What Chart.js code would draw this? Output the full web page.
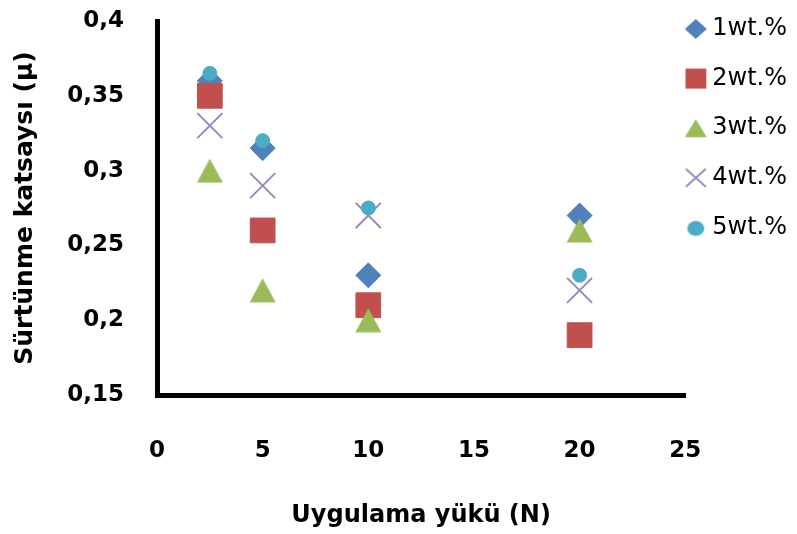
<!DOCTYPE html>
<html>
<head>
<meta charset="utf-8">
<script src="https://cdn.jsdelivr.net/npm/chart.js@4.4.1/dist/chart.umd.min.js"></script>
<style>
  html, body { margin: 0; padding: 0; background: #ffffff; }
  #wrap { width: 797px; height: 534px; }
</style>
</head>
<body>
<div id="wrap"><canvas id="chart" width="797" height="534"></canvas></div>
<script>
// Applied load (N) and friction coefficient for each reinforcement ratio
const loads = [2.5, 5, 10, 20];
const wt1 = [0.36, 0.315, 0.23, 0.27];
const wt2 = [0.35, 0.26, 0.21, 0.19];
const wt3 = [0.30, 0.22, 0.20, 0.26];
const wt4 = [0.33, 0.29, 0.27, 0.22];
const wt5 = [0.365, 0.32, 0.275, 0.23];
const seriesNames = ['1wt.%', '2wt.%', '3wt.%', '4wt.%', '5wt.%'];

const xTicks = [0, 5, 10, 15, 20, 25];
const xTickLabels = ['0', '5', '10', '15', '20', '25'];
const yTicks = [0.15, 0.2, 0.25, 0.3, 0.35, 0.4];
const yTickLabels = ['0,15', '0,2', '0,25', '0,3', '0,35', '0,4'];

const BLUE = '#4F81BD', RED = '#C0504D', GREEN = '#9BBB59', PURPLE = '#9682BF', CYAN = '#4BACC6';

function makeIcon(w, h, draw) {
  const c = document.createElement('canvas');
  c.width = w; c.height = h;
  draw(c.getContext('2d'), w, h);
  return c;
}

// Triangle marker centred on its bounding box
const triangleMarker = makeIcon(27, 25, (g) => {
  g.fillStyle = GREEN;
  g.beginPath();
  g.moveTo(13.5, 0.5); g.lineTo(26.5, 24.5); g.lineTo(0.5, 24.5); g.closePath();
  g.fill();
});

// Legend symbols
const LX = 17.5, LY = 12;
const legendIcons = [
  makeIcon(29, 24, (g) => {
    g.fillStyle = BLUE; g.beginPath();
    g.moveTo(LX - 11, LY); g.lineTo(LX, LY - 10); g.lineTo(LX + 11, LY); g.lineTo(LX, LY + 10);
    g.closePath(); g.fill();
  }),
  makeIcon(29, 24, (g) => {
    g.fillStyle = RED; g.fillRect(LX - 10.5, LY - 10, 21, 20);
  }),
  makeIcon(29, 24, (g) => {
    g.fillStyle = GREEN; g.beginPath();
    g.moveTo(LX, LY - 9); g.lineTo(LX + 11, LY + 9); g.lineTo(LX - 11, LY + 9);
    g.closePath(); g.fill();
  }),
  makeIcon(29, 24, (g) => {
    g.strokeStyle = PURPLE; g.lineWidth = 1.8; g.beginPath();
    g.moveTo(LX - 10, LY - 9); g.lineTo(LX + 10, LY + 9);
    g.moveTo(LX + 10, LY - 9); g.lineTo(LX - 10, LY + 9);
    g.stroke();
  }),
  makeIcon(29, 24, (g) => {
    g.fillStyle = CYAN; g.beginPath();
    g.ellipse(LX, LY + 1, 8.5, 7.5, 0, 0, Math.PI * 2); g.fill();
  })
];

function points(ys) {
  return loads.map((x, i) => ({ x: x, y: ys[i] }));
}

const seriesValues = [wt1, wt2, wt3, wt4, wt5];
const styles = [
  { pointStyle: 'rectRot', pointRadius: 12.5, pointBackgroundColor: BLUE, pointBorderColor: BLUE, pointBorderWidth: 1 },
  { pointStyle: 'rect', pointRadius: 17.5, pointBackgroundColor: RED, pointBorderColor: RED, pointBorderWidth: 1 },
  { pointStyle: triangleMarker, pointRadius: 13, pointBackgroundColor: GREEN, pointBorderColor: GREEN, pointBorderWidth: 0 },
  { pointStyle: 'crossRot', pointRadius: 17.7, pointBackgroundColor: PURPLE, pointBorderColor: PURPLE, pointBorderWidth: 1.8 },
  { pointStyle: 'circle', pointRadius: 7, pointBackgroundColor: CYAN, pointBorderColor: CYAN, pointBorderWidth: 1 }
];

const datasets = seriesNames.map((name, i) => Object.assign({
  label: name,
  data: points(seriesValues[i]),
  showLine: false,
  order: seriesNames.length - i,
  pointHoverRadius: styles[i].pointRadius
}, styles[i]));

const tickFont = { family: 'DejaVu Sans', weight: 'bold', size: 23 };
const xTitleFont = { family: 'DejaVu Sans', weight: 'bold', size: 24 };
const yTitleFont = { family: 'DejaVu Sans', weight: 'bold', size: 25 };

new Chart(document.getElementById('chart'), {
  type: 'scatter',
  data: { datasets: datasets },
  options: {
    responsive: false,
    animation: false,
    events: [],
    layout: { padding: { top: 17, right: 0, bottom: 0, left: 0 } },
    plugins: {
      tooltip: { enabled: false },
      legend: {
        display: true,
        position: 'right',
        align: 'start',
        labels: {
          usePointStyle: true,
          boxWidth: 15,
          padding: 0,
          color: '#000',
          font: { family: 'DejaVu Sans', size: 24, lineHeight: '49.6px' },
          generateLabels: (chart) => {
            const base = Chart.defaults.plugins.legend.labels.generateLabels(chart);
            return base
              .sort((a, b) => a.datasetIndex - b.datasetIndex)
              .map((item) => Object.assign(item, {
                text: [seriesNames[item.datasetIndex]],
                pointStyle: legendIcons[item.datasetIndex],
                lineWidth: 0
              }));
          }
        }
      }
    },
    scales: {
      x: {
        type: 'linear',
        min: 0,
        max: 25,
        afterBuildTicks: (s) => { s.ticks = xTicks.map((v) => ({ value: v })); },
        afterFit: (s) => { s.height = 139; },
        ticks: {
          autoSkip: false,
          maxRotation: 0,
          padding: 42,
          color: '#000',
          font: tickFont,
          callback: (v) => xTickLabels[xTicks.indexOf(v)]
        },
        grid: { display: false, drawTicks: false },
        border: { display: true, color: '#000', width: 5 },
        title: {
          display: true,
          text: 'Uygulama yükü (N)',
          color: '#000',
          font: xTitleFont,
          padding: { top: 0, bottom: 4 }
        }
      },
      y: {
        type: 'linear',
        min: 0.15,
        max: 0.4,
        afterBuildTicks: (s) => { s.ticks = yTicks.map((v) => ({ value: v })); },
        afterFit: (s) => { s.width = 157; s.paddingTop = 21; },
        ticks: {
          autoSkip: false,
          padding: 33,
          color: '#000',
          font: tickFont,
          callback: (v) => yTickLabels[yTicks.findIndex((t) => Math.abs(t - v) < 1e-9)]
        },
        grid: { display: false, drawTicks: false },
        border: { display: true, color: '#000', width: 5 },
        title: {
          display: true,
          text: 'Sürtünme katsaysı (μ)',
          color: '#000',
          font: yTitleFont,
          padding: { top: 10, bottom: 0 }
        }
      }
    }
  }
});
</script>
</body>
</html>
